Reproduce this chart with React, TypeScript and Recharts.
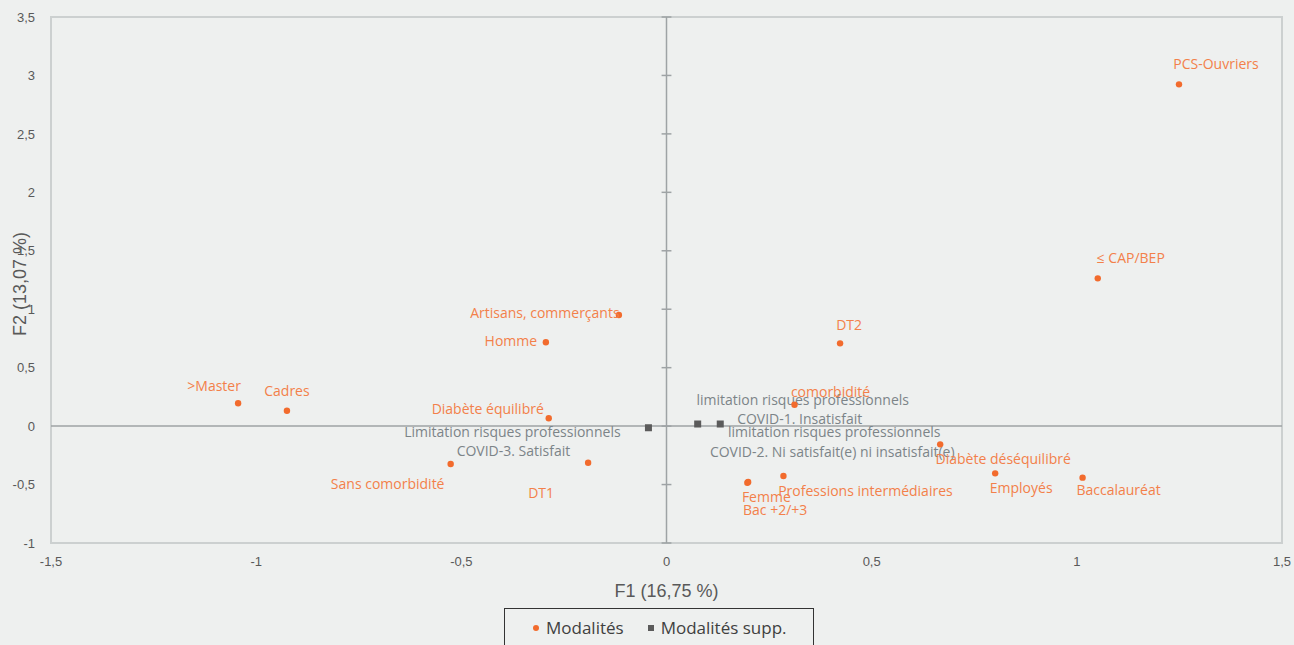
import React from 'react';
import {
  ScatterChart,
  Scatter,
  XAxis,
  YAxis,
  ReferenceLine,
  ReferenceArea,
  Label,
} from 'recharts';

// Active categories (Modalités): names and coordinates on F1 / F2
const modaliteNames = [
  'PCS-Ouvriers',
  '≤ CAP/BEP',
  'DT2',
  'comorbidité',
  'Diabète déséquilibré',
  'Femme',
  'Bac +2/+3',
  'Professions intermédiaires',
  'Employés',
  'Baccalauréat',
  '>Master',
  'Cadres',
  'Sans comorbidité',
  'Artisans, commerçants',
  'Homme',
  'Diabète équilibré',
  'DT1',
];
const modaliteF1 = [
  1.249, 1.051, 0.423, 0.312, 0.667, 0.197, 0.199, 0.285, 0.801, 1.014,
  -1.044, -0.925, -0.526, -0.116, -0.294, -0.287, -0.191,
];
const modaliteF2 = [
  2.924, 1.264, 0.708, 0.183, -0.156, -0.484, -0.478, -0.427, -0.404, -0.441,
  0.195, 0.132, -0.324, 0.95, 0.717, 0.067, -0.313,
];

// Supplementary categories (Modalités supp.)
const suppNames = [
  'Limitation risques professionnels COVID-3. Satisfait',
  'limitation risques professionnels COVID-1. Insatisfait',
  'limitation risques professionnels COVID-2. Ni satisfait(e) ni insatisfait(e)',
];
const suppF1 = [-0.044, 0.076, 0.131];
const suppF2 = [-0.014, 0.018, 0.018];

// Axis ticks
const xTicks = [-1.5, -1, -0.5, 0, 0.5, 1, 1.5];
const yTicks = [-1, -0.5, 0, 0.5, 1, 1.5, 2, 2.5, 3, 3.5];

// Label placement around each marker (text centre offset in px)
const labelOffsets: Record<string, [number, number][]> = {
  'PCS-Ouvriers': [[37, -21]],
  '≤ CAP/BEP': [[33, -21]],
  DT2: [[9, -19]],
  'comorbidité': [[36, -13]],
  'Diabète déséquilibré': [[63, 14]],
  Femme: [[19, 14]],
  'Bac +2/+3': [[27, 28]],
  'Professions intermédiaires': [[82, 14]],
  'Employés': [[26, 14]],
  'Baccalauréat': [[36, 12]],
  '>Master': [[-24, -18]],
  Cadres: [[0, -20]],
  'Sans comorbidité': [[-63, 20]],
  'Artisans, commerçants': [[-74, -3]],
  Homme: [[-35, -2]],
  'Diabète équilibré': [[-61, -10]],
  DT1: [[-47, 30]],
  'Limitation risques professionnels COVID-3. Satisfait': [[-136, 4], [-135, 23]],
  'limitation risques professionnels COVID-1. Insatisfait': [[105, -25], [102, -6]],
  'limitation risques professionnels COVID-2. Ni satisfait(e) ni insatisfait(e)': [[114, 7], [112, 27]],
};

const modalites = modaliteNames.map((name, i) => ({ name, x: modaliteF1[i], y: modaliteF2[i] }));
const supplementaires = suppNames.map((name, i) => ({ name, x: suppF1[i], y: suppF2[i] }));

const ORANGE = '#f26b2d';
const ORANGE_TEXT = '#f3804a';
const GREY = '#5b5b5b';
const GREY_TEXT = '#7c8488';
const LABEL_FONT = '"Open Sans", "Noto Sans", sans-serif';
const AXIS_FONT = '"Liberation Sans", Arial, sans-serif';

const fmt = (v: number) => String(v).replace('.', ',');

function splitLines(name: string): string[] {
  const idx = name.indexOf(' COVID');
  return idx > 0 ? [name.slice(0, idx), name.slice(idx + 1)] : [name];
}

function renderLabels(cx: number, cy: number, name: string, color: string) {
  const lines = splitLines(name);
  const offsets = labelOffsets[name] || [[0, -16]];
  return lines.map((line, i) => {
    const [dx, dy] = offsets[i] || offsets[0];
    return (
      <text
        key={i}
        x={cx + dx}
        y={cy + dy}
        textAnchor="middle"
        dominantBaseline="central"
        fontFamily={LABEL_FONT}
        fontSize={14}
        fill={color}
      >
        {line}
      </text>
    );
  });
}

const OrangeDot = (props: any) => {
  const { cx, cy, payload } = props;
  return (
    <g>
      <circle cx={cx} cy={cy} r={3.2} fill={ORANGE} />
      {renderLabels(cx, cy, payload.name, ORANGE_TEXT)}
    </g>
  );
};

const GreySquare = (props: any) => {
  const { cx, cy, payload } = props;
  return (
    <g>
      <rect x={cx - 3.5} y={cy - 3.5} width={7} height={7} fill={GREY} />
      {renderLabels(cx, cy, payload.name, GREY_TEXT)}
    </g>
  );
};

const YTitle = (props: any) => {
  const vb = props.viewBox || {};
  const x = 20;
  const y = vb.y + vb.height / 2 + 4;
  return (
    <text
      x={x}
      y={y}
      transform={`rotate(-90 ${x} ${y})`}
      textAnchor="middle"
      dominantBaseline="central"
      fontFamily={AXIS_FONT}
      fontSize={18}
      fill="#595959"
    >
      F2 (13,07 %)
    </text>
  );
};

const XTitle = (props: any) => {
  const vb = props.viewBox || {};
  return (
    <text
      x={vb.x + vb.width / 2}
      y={591}
      textAnchor="middle"
      dominantBaseline="central"
      fontFamily={AXIS_FONT}
      fontSize={18}
      fill="#595959"
    >
      F1 (16,75 %)
    </text>
  );
};

const tickStyle = {
  fontFamily: AXIS_FONT,
  fontSize: 13,
  fill: '#595959',
};

export default function App() {
  return (
    <div
      style={{
        position: 'absolute',
        left: 0,
        top: 0,
        width: 1294,
        height: 645,
        background: '#eef0ef',
        overflow: 'hidden',
      }}
    >
      <ScatterChart
        width={1294}
        height={645}
        margin={{ top: 17, right: 12, bottom: 0, left: 8 }}
      >
        <XAxis
          type="number"
          dataKey="x"
          domain={[-1.5, 1.5]}
          ticks={xTicks}
          tickFormatter={fmt}
          axisLine={false}
          tickLine={false}
          tickSize={0}
          tickMargin={14}
          height={102}
          tick={tickStyle}
          allowDataOverflow
        >
          <Label content={<XTitle />} />
        </XAxis>
        <YAxis
          type="number"
          dataKey="y"
          domain={[-1, 3.5]}
          ticks={yTicks}
          tickFormatter={fmt}
          axisLine={false}
          tickLine={false}
          tickSize={0}
          tickMargin={16}
          width={43}
          tick={tickStyle}
          allowDataOverflow
        >
          <Label content={<YTitle />} />
        </YAxis>
        <ReferenceArea
          x1={-1.5}
          x2={1.5}
          y1={-1}
          y2={3.5}
          fill="none"
          stroke="#ccd0d0"
          strokeWidth={2}
          ifOverflow="visible"
        />
        <ReferenceLine y={0} stroke="#9ea3a5" strokeWidth={1.5} />
        <ReferenceLine x={0} stroke="#9ea3a5" strokeWidth={1.5} />
        {yTicks.map((t) => (
          <ReferenceLine
            key={t}
            segment={[
              { x: -0.012, y: t },
              { x: 0.012, y: t },
            ]}
            stroke="#9ea3a5"
            strokeWidth={1.5}
            ifOverflow="visible"
          />
        ))}
        <Scatter
          name="Modalités supp."
          data={supplementaires}
          shape={<GreySquare />}
          isAnimationActive={false}
        />
        <Scatter
          name="Modalités"
          data={modalites}
          shape={<OrangeDot />}
          isAnimationActive={false}
        />
      </ScatterChart>
      <div
        style={{
          position: 'absolute',
          left: 504,
          top: 608,
          width: 310,
          height: 44,
          border: '1.5px solid #333',
          boxSizing: 'border-box',
          display: 'flex',
          alignItems: 'flex-start',
          paddingTop: 7,
          fontFamily: LABEL_FONT,
          fontSize: 17,
          color: '#404040',
        }}
      >
        <span style={{ display: 'flex', alignItems: 'center', marginLeft: 27 }}>
          <svg width={8} height={8} style={{ marginRight: 6 }}>
            <circle cx={4} cy={4} r={3} fill={ORANGE} />
          </svg>
          Modalités
        </span>
        <span style={{ display: 'flex', alignItems: 'center', marginLeft: 23 }}>
          <svg width={8} height={8} style={{ marginRight: 6 }}>
            <rect x={1} y={1} width={6} height={6} fill={GREY} />
          </svg>
          Modalités supp.
        </span>
      </div>
    </div>
  );
}
